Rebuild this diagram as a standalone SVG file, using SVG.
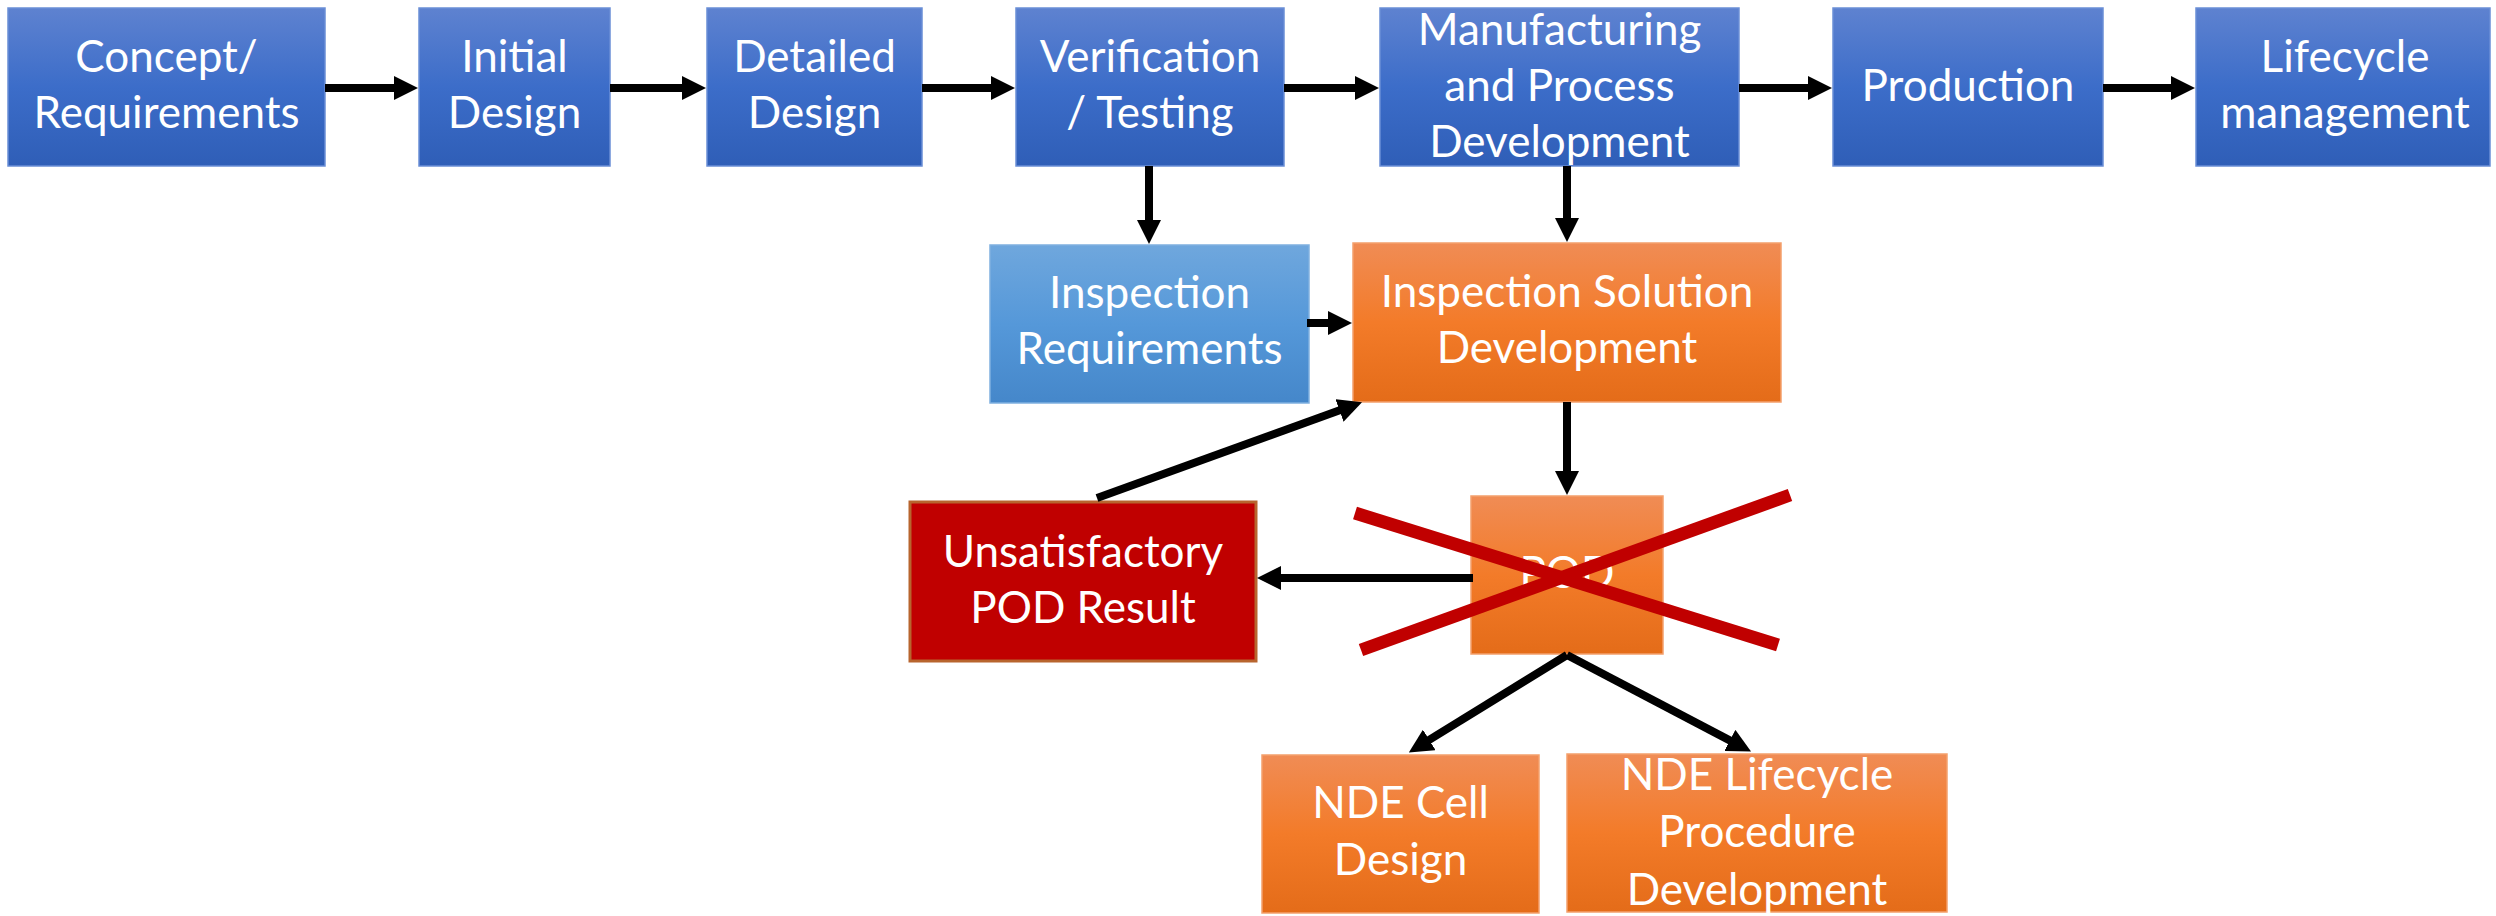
<svg xmlns="http://www.w3.org/2000/svg" width="2496" height="916" viewBox="0 0 2496 916">
  <defs>
    <linearGradient id="gBlue" x1="0" y1="0" x2="0" y2="1">
      <stop offset="0" stop-color="#5E82D0"/>
      <stop offset="0.5" stop-color="#3C6DC9"/>
      <stop offset="1" stop-color="#2F5EB7"/>
    </linearGradient>
    <linearGradient id="gLightBlue" x1="0" y1="0" x2="0" y2="1">
      <stop offset="0" stop-color="#6FA7DD"/>
      <stop offset="0.5" stop-color="#5598D9"/>
      <stop offset="1" stop-color="#4587CA"/>
    </linearGradient>
    <linearGradient id="gOrange" x1="0" y1="0" x2="0" y2="1">
      <stop offset="0" stop-color="#F08C55"/>
      <stop offset="0.5" stop-color="#F37B29"/>
      <stop offset="1" stop-color="#E46C19"/>
    </linearGradient>
    <marker id="head" viewBox="0 -12 24 24" refX="1" refY="0" markerWidth="24" markerHeight="24" markerUnits="userSpaceOnUse" orient="auto">
      <path d="M0,-12 L24,0 L0,12 z" fill="#000"/>
    </marker>
    <style>
      .blue { fill: url(#gBlue); stroke: #6A8ED6; stroke-width: 1.5; }
      .lblue { fill: url(#gLightBlue); stroke: #7FB0E0; stroke-width: 1.5; }
      .orange { fill: url(#gOrange); stroke: #F4A06C; stroke-width: 1.5; }
      .red { fill: #C00000; stroke: #B8652E; stroke-width: 3; }
      .label { font-family: Lato, "Liberation Sans", sans-serif; font-size: 44px; fill: #FFFFFF; text-anchor: middle; }
      .conn { stroke: #000; stroke-width: 8; fill: none; marker-end: url(#head); }
      .cross { stroke: #C00000; stroke-width: 13; fill: none; }
    </style>
  </defs>

  <rect width="2496" height="916" fill="#FFFFFF"/>

  <!-- main product lifecycle row -->
  <g id="concept">
    <rect class="blue" x="8" y="8" width="317" height="158"/>
    <text class="label" x="166.5" y="72">Concept/</text>
    <text class="label" x="166.5" y="128">Requirements</text>
  </g>
  <g id="initial-design">
    <rect class="blue" x="419" y="8" width="191" height="158"/>
    <text class="label" x="514.5" y="72">Initial</text>
    <text class="label" x="514.5" y="128">Design</text>
  </g>
  <g id="detailed-design">
    <rect class="blue" x="707" y="8" width="215" height="158"/>
    <text class="label" x="814.5" y="72">Detailed</text>
    <text class="label" x="814.5" y="128">Design</text>
  </g>
  <g id="verification">
    <rect class="blue" x="1016" y="8" width="268" height="158"/>
    <text class="label" x="1150" y="72">Verification</text>
    <text class="label" x="1150" y="128">/ Testing</text>
  </g>
  <g id="manufacturing">
    <rect class="blue" x="1380" y="8" width="359" height="158"/>
    <text class="label" x="1559.5" y="45">Manufacturing</text>
    <text class="label" x="1559.5" y="101">and Process</text>
    <text class="label" x="1559.5" y="157">Development</text>
  </g>
  <g id="production">
    <rect class="blue" x="1833" y="8" width="270" height="158"/>
    <text class="label" x="1968" y="101">Production</text>
  </g>
  <g id="lifecycle-management">
    <rect class="blue" x="2196" y="8" width="294" height="158"/>
    <text class="label" x="2345" y="72">Lifecycle</text>
    <text class="label" x="2345" y="128">management</text>
  </g>

  <!-- inspection branch -->
  <g id="inspection-requirements">
    <rect class="lblue" x="990" y="245" width="319" height="158"/>
    <text class="label" x="1149.5" y="308">Inspection</text>
    <text class="label" x="1149.5" y="364">Requirements</text>
  </g>
  <g id="inspection-solution">
    <rect class="orange" x="1353" y="243" width="428" height="159"/>
    <text class="label" x="1567" y="307">Inspection Solution</text>
    <text class="label" x="1567" y="363">Development</text>
  </g>
  <g id="unsatisfactory-pod">
    <rect class="red" x="910" y="502" width="346" height="159"/>
    <text class="label" x="1083" y="567">Unsatisfactory</text>
    <text class="label" x="1083" y="623">POD Result</text>
  </g>
  <g id="pod">
    <rect class="orange" x="1471" y="496" width="192" height="158"/>
    <text class="label" x="1567" y="588">POD</text>
  </g>
  <g id="nde-cell-design">
    <rect class="orange" x="1262" y="755" width="277" height="158"/>
    <text class="label" x="1400.5" y="818">NDE Cell</text>
    <text class="label" x="1400.5" y="875">Design</text>
  </g>
  <g id="nde-lifecycle-procedure">
    <rect class="orange" x="1567" y="754" width="380" height="158"/>
    <text class="label" x="1757" y="790">NDE Lifecycle</text>
    <text class="label" x="1757" y="847">Procedure</text>
    <text class="label" x="1757" y="905">Development</text>
  </g>

  <!-- connectors -->
  <g id="connectors">
    <line class="conn" x1="325" y1="88" x2="395" y2="88"/>
    <line class="conn" x1="610" y1="88" x2="683" y2="88"/>
    <line class="conn" x1="922" y1="88" x2="992" y2="88"/>
    <line class="conn" x1="1284" y1="88" x2="1356" y2="88"/>
    <line class="conn" x1="1739" y1="88" x2="1809" y2="88"/>
    <line class="conn" x1="2103" y1="88" x2="2172" y2="88"/>
    <line class="conn" x1="1149" y1="166" x2="1149" y2="221"/>
    <line class="conn" x1="1567" y1="166" x2="1567" y2="219"/>
    <line class="conn" x1="1307" y1="323" x2="1329" y2="323"/>
    <line class="conn" x1="1567" y1="402" x2="1567" y2="472"/>
    <line class="conn" x1="1473" y1="578" x2="1280" y2="578"/>
    <line class="conn" x1="1097" y1="498" x2="1340.4" y2="410.1"/>
    <line class="conn" x1="1567" y1="655" x2="1428.4" y2="740.4"/>
    <line class="conn" x1="1567" y1="655" x2="1730.7" y2="740.9"/>
  </g>

  <!-- strike-through over the POD step -->
  <g id="pod-cross">
    <line class="cross" x1="1355" y1="513" x2="1778" y2="645"/>
    <line class="cross" x1="1361" y1="650" x2="1790" y2="495"/>
  </g>
</svg>
